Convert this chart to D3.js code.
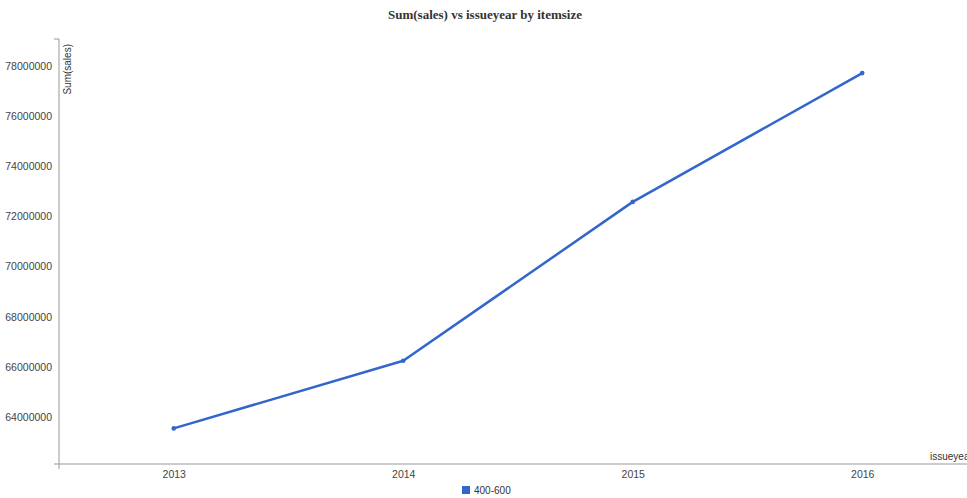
<!DOCTYPE html>
<html>
<head>
<meta charset="utf-8">
<script src="https://cdn.jsdelivr.net/npm/d3@7"></script>
<style>
  html, body { margin: 0; padding: 0; background: #fff; overflow: hidden; }
  svg { display: block; font-family: Arial, "Liberation Sans", sans-serif; }
</style>
</head>
<body>
<svg id="chart" width="967" height="498"></svg>
<script>
// Sum of sales per issue year, itemsize 400-600
const years = ["2013", "2014", "2015", "2016"];
const sales = [63540000, 66240000, 72580000, 77720000];
const seriesName = "400-600";
const yTicks = [64000000, 66000000, 68000000, 70000000, 72000000, 74000000, 76000000, 78000000];
const yDomain = [62120000, 79080000];

const svg = d3.select("#chart");
const plot = { left: 59, right: 977, top: 39, bottom: 464 };
const lineColor = "#3366cc";
const axisColor = "#999";

const x = d3.scalePoint().domain(years).range([plot.left, plot.right]).padding(0.5);
const y = d3.scaleLinear().domain(yDomain).range([plot.bottom, plot.top]);

// title
svg.append("text")
  .attr("x", 485).attr("y", 19)
  .attr("text-anchor", "middle")
  .style("font-family", "'Liberation Serif', 'Times New Roman', serif")
  .style("font-weight", "bold")
  .style("font-size", "13px")
  .attr("fill", "#333")
  .text("Sum(sales) vs issueyear by itemsize");

// y axis
const yAxis = svg.append("g")
  .attr("transform", `translate(${plot.left},0)`)
  .call(d3.axisLeft(y).tickValues(yTicks).tickSize(0).tickPadding(7).tickFormat(d3.format("d")));
yAxis.select(".domain").remove();
yAxis.selectAll("text").attr("fill", "#444").style("font-size", "10.5px");
yAxis.append("path")
  .attr("d", `M${-5},${plot.top}H0V${plot.bottom}`)
  .attr("fill", "none").attr("stroke", axisColor);

// x axis
const xAxis = svg.append("g")
  .attr("transform", `translate(0,${plot.bottom})`)
  .call(d3.axisBottom(x).tickSize(0).tickPadding(7));
xAxis.select(".domain").remove();
xAxis.selectAll("text").attr("fill", "#444").style("font-size", "10.5px");
xAxis.append("path")
  .attr("d", `M${plot.left - 5},0H${plot.right}M${plot.left},0V5`)
  .attr("fill", "none").attr("stroke", axisColor);

// axis titles
svg.append("text")
  .attr("transform", `translate(${plot.left + 8},${plot.top + 5}) rotate(-90)`)
  .attr("text-anchor", "end")
  .attr("dy", "0.35em")
  .style("font-size", "10px")
  .attr("fill", "#333")
  .text("Sum(sales)");

svg.append("text")
  .attr("x", 930).attr("y", plot.bottom - 4)
  .style("font-size", "10px")
  .attr("fill", "#333")
  .text("issueyear");

// series line
const data = years.map((yr, i) => ({ year: yr, value: sales[i] }));
svg.append("path")
  .datum(data)
  .attr("fill", "none")
  .attr("stroke", lineColor)
  .attr("stroke-width", 2.5)
  .attr("stroke-linejoin", "round")
  .attr("d", d3.line().x(d => x(d.year)).y(d => y(d.value)));

svg.selectAll("circle.pt")
  .data(data)
  .join("circle")
  .attr("class", "pt")
  .attr("cx", d => x(d.year))
  .attr("cy", d => y(d.value))
  .attr("r", 2.3)
  .attr("fill", lineColor);

// legend
const legend = svg.append("g").attr("transform", "translate(462,486)");
legend.append("rect").attr("width", 8).attr("height", 8).attr("fill", lineColor);
legend.append("text")
  .attr("x", 12).attr("y", 4).attr("dy", "0.35em")
  .style("font-size", "10px")
  .attr("fill", "#333")
  .text(seriesName);
</script>
</body>
</html>
